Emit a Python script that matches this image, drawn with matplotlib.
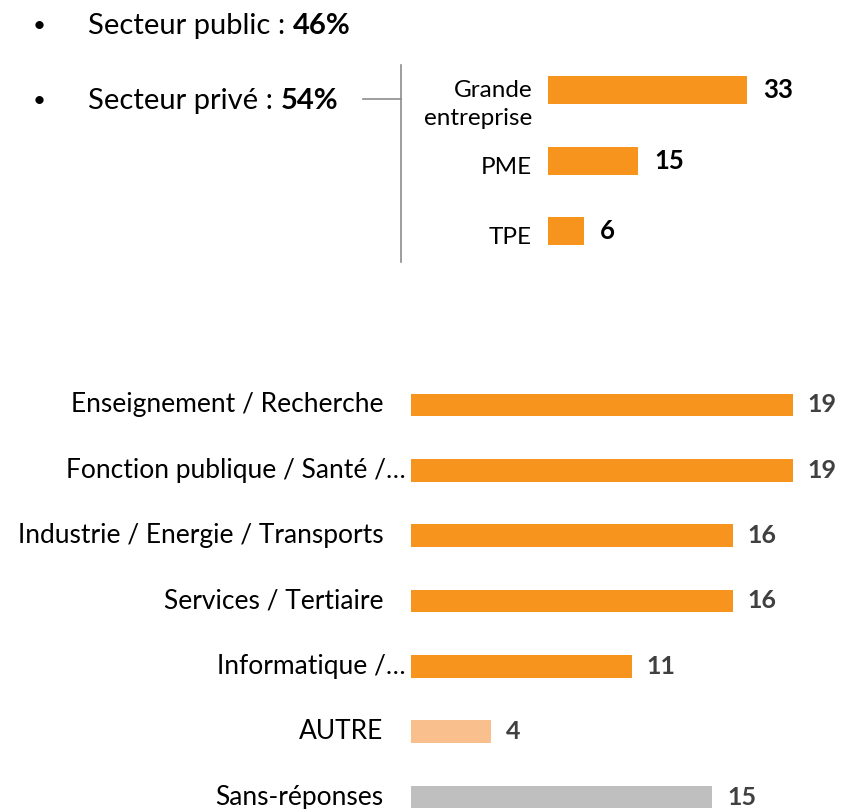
import matplotlib
matplotlib.use("Agg")
import matplotlib.pyplot as plt
from matplotlib.lines import Line2D

plt.rcParams['font.family'] = ['Lato', 'DejaVu Sans']

# top: secteur
secteurs = ["Secteur public : ", "Secteur privé : "]
secteur_pct = ["46%", "54%"]

# top chart: taille d'entreprise (privé)
taille_labels = ["Grande\nentreprise", "PME", "TPE"]
taille_values = [33, 15, 6]

# bottom chart: domaine
domaine_labels = ["Enseignement / Recherche", "Fonction publique / Santé /…",
                  "Industrie / Energie / Transports", "Services / Tertiaire",
                  "Informatique /…", "AUTRE", "Sans-réponses"]
domaine_values = [19, 19, 16, 16, 11, 4, 15]
domaine_colors = ["#F7941D"] * 5 + ["#F9C08E", "#BFBFBF"]

W, H = 841, 809
fig = plt.figure(figsize=(W / 100, H / 100), dpi=100)


def px_axes(left, top, width, height):
    return fig.add_axes([left / W, 1 - (top + height) / H, width / W, height / H])


# bullets
for i, (s, p) in enumerate(zip(secteurs, secteur_pct)):
    y = 1 - (26 + i * 75) / H
    fig.text(33 / W, y, "•", fontsize=16, ha='left', va='center')
    t = fig.text(88 / W, y, s, fontsize=21, ha='left', va='center')
    fig.canvas.draw()
    bb = t.get_window_extent()
    fig.text(bb.x1 / W, y, p, fontsize=21, fontweight='bold', ha='left', va='center')

# connector lines
fig.add_artist(Line2D([363 / W, 401 / W], [1 - 99 / H, 1 - 99 / H], color='#8C8C8C', lw=1.2))
fig.add_artist(Line2D([401 / W, 401 / W], [1 - 65 / H, 1 - 262 / H], color='#8C8C8C', lw=1.2))

# top bars
ax1 = px_axes(548, 55, 241, 211.5)
ax1.barh(range(len(taille_values)), taille_values, height=0.4, color="#F7941D")
ax1.set_ylim(2.5, -0.5)
ax1.set_xlim(0, 40)
ax1.axis('off')
for i, (lab, v) in enumerate(zip(taille_labels, taille_values)):
    ax1.annotate(lab, xy=(0, i), xycoords=('axes fraction', 'data'), xytext=(-11.5, -10 if "\n" in lab else -4.5),
                 textcoords='offset points', ha='right', va='center', fontsize=17.5, linespacing=1.4)
    ax1.annotate(str(v), xy=(v, i), xytext=(11.5, 0), textcoords='offset points',
                 ha='left', va='center', fontsize=18.5, fontweight='bold')

# bottom bars
ax2 = px_axes(411, 372.3, 422, 457.4)
ax2.barh(range(len(domaine_values)), domaine_values, height=0.345, color=domaine_colors)
ax2.set_ylim(6.5, -0.5)
ax2.set_xlim(0, 21)
ax2.axis('off')
for i, (lab, v) in enumerate(zip(domaine_labels, domaine_values)):
    pad = 4 if lab.endswith("…") else 20
    ax2.annotate(lab, xy=(0, i), xycoords=('axes fraction', 'data'), xytext=(-pad, 0),
                 textcoords='offset points', ha='right', va='center', fontsize=19)
    ax2.annotate(str(v), xy=(v, i), xytext=(10.5, 0), textcoords='offset points',
                 ha='left', va='center', fontsize=18, fontweight='bold', color='#404040')

fig.savefig("out.png", dpi=100)
